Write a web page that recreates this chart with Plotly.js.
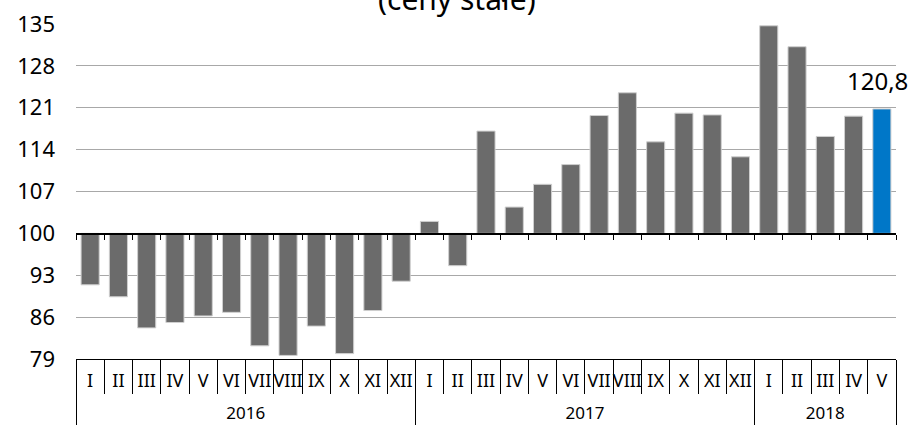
<!DOCTYPE html>
<html>
<head>
<meta charset="utf-8">
<script src="https://cdn.plot.ly/plotly-3.0.1.min.js"></script>
<style>html,body{margin:0;padding:0;background:#fff}#chart{width:916px;height:425px}</style>
</head>
<body>
<div id="chart"></div>
<script>
const years = ["2016","2016","2016","2016","2016","2016","2016","2016","2016","2016","2016","2016",
               "2017","2017","2017","2017","2017","2017","2017","2017","2017","2017","2017","2017",
               "2018","2018","2018","2018","2018"];
const months = ["I","II","III","IV","V","VI","VII","VIII","IX","X","XI","XII",
                "I","II","III","IV","V","VI","VII","VIII","IX","X","XI","XII",
                "I","II","III","IV","V"];
const values = [91.4, 89.4, 84.2, 85.1, 86.2, 86.8, 81.2, 79.6, 84.5, 79.9, 87.1, 92.0,
                102.0, 94.6, 117.1, 104.4, 108.2, 111.5, 119.7, 123.5, 115.3, 120.1, 119.8, 112.8,
                134.7, 131.2, 116.2, 119.6, 120.8];
const yTicks = [79, 86, 93, 100, 107, 114, 121, 128, 135];
const baseValue = 100;
const titleText = "(ceny stałe)";

const n = values.length;
const idx = months.map((m, i) => i);
const colors = values.map((v, i) => i === n - 1 ? "#0077c8" : "#6b6b6b");
const FONT = "Noto Sans";

// month boundaries
const boundaries = [];
for (let k = 0; k <= n; k++) boundaries.push(k - 0.5);
// year groups
const yearNames = [], yearCenters = [], yearBounds = [-0.5];
years.forEach((y, i) => {
  if (i === 0 || years[i - 1] !== y) yearNames.push(y);
  if (i === n - 1 || years[i + 1] !== y) yearBounds.push(i + 0.5);
});
for (let g = 0; g < yearNames.length; g++) yearCenters.push((yearBounds[g] + yearBounds[g + 1]) / 2);

const bars = {
  type: "bar",
  x: idx,
  y: values.map(v => v - baseValue),
  base: baseValue,
  marker: {color: colors, line: {color: "#cfcfcf", width: 1}},
  hoverinfo: "skip"
};
const h2 = {type: "scatter", x: [], y: [], xaxis: "x2", yaxis: "y", hoverinfo: "skip", showlegend: false};
const h3 = {type: "scatter", x: [], y: [], xaxis: "x3", yaxis: "y", hoverinfo: "skip", showlegend: false};

const xr = [-0.5, n - 0.5];
const layout = {
  width: 916, height: 425,
  margin: {l: 76, r: 20, t: 24, b: 66},
  paper_bgcolor: "#fff", plot_bgcolor: "#fff",
  showlegend: false,
  bargap: 0.36,
  font: {family: FONT, color: "#000"},
  xaxis: {
    range: xr, fixedrange: true,
    tickmode: "array", tickvals: idx, ticktext: months,
    ticks: "", showline: true, linecolor: "#000", linewidth: 1,
    ticklabelstandoff: 5,
    minor: {tickmode: "array", tickvals: boundaries, ticks: "outside", ticklen: 34, tickcolor: "#000", tickwidth: 1, showgrid: false},
    tickfont: {size: 18, color: "#000", family: FONT},
    showgrid: false, zeroline: false
  },
  xaxis2: {
    overlaying: "x", anchor: "free",
    position: (baseValue - yTicks[0]) / (yTicks[yTicks.length - 1] - yTicks[0]),
    range: xr,
    tickmode: "array", tickvals: boundaries,
    ticks: "outside", ticklen: 5, tickcolor: "#000",
    showticklabels: false, showline: true, linecolor: "#000", linewidth: 1.3,
    showgrid: false, zeroline: false
  },
  xaxis3: {
    overlaying: "x", anchor: "y", side: "bottom",
    range: xr,
    tickmode: "array", tickvals: yearCenters, ticktext: yearNames,
    ticks: "", showline: false,
    ticklabelstandoff: 42,
    minor: {tickmode: "array", tickvals: yearBounds, ticks: "outside", ticklen: 66, tickcolor: "#000", tickwidth: 1, showgrid: false},
    tickfont: {size: 17, color: "#000", family: FONT},
    showgrid: false, zeroline: false
  },
  yaxis: {
    range: [yTicks[0], yTicks[yTicks.length - 1]],
    tickmode: "array", tickvals: yTicks,
    showgrid: true, gridcolor: "#a8a8a8", gridwidth: 1,
    zeroline: false, showline: false, ticks: "",
    ticklabelstandoff: 20,
    tickfont: {size: 22, color: "#000", family: FONT}
  },
  annotations: [
    {
      text: titleText, xref: "paper", yref: "paper",
      x: 0.465, y: 1.076, xanchor: "center", yanchor: "middle",
      showarrow: false, font: {size: 30, color: "#000", family: FONT}
    },
    {
      text: values[n - 1].toFixed(1).replace(".", ","), xref: "x", yref: "y",
      x: idx[n - 1], y: values[n - 1], xanchor: "center", yanchor: "bottom",
      xshift: -4, yshift: 10,
      showarrow: false, font: {size: 24, color: "#000", family: FONT}
    }
  ]
};

Plotly.newPlot("chart", [bars, h2, h3], layout, {displayModeBar: false, staticPlot: true});
</script>
</body>
</html>
